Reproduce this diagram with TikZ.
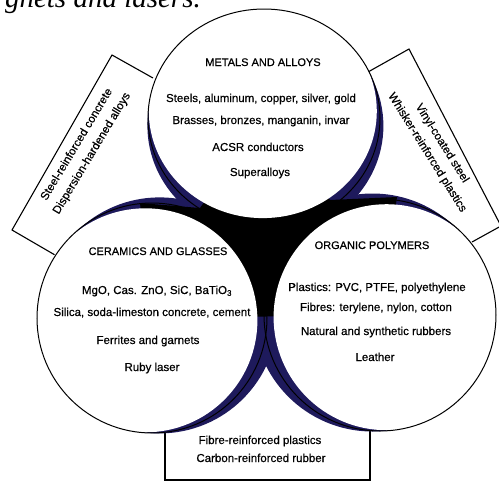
\documentclass[tikz,border=0pt]{standalone}
\usepackage{fontspec}
\setmainfont{Liberation Sans}[FakeBold=0.5]
\newfontfamily\titlefont{Liberation Serif}
\definecolor{bandblue}{RGB}{30,26,92}
\begin{document}
\begin{tikzpicture}[x=1pt,y=-1pt,
  lbl/.style={font=\fontsize{11.5}{13}\selectfont, inner sep=0pt, anchor=base},
  hdr/.style={font=\fontsize{11}{12}\selectfont, inner sep=0pt, anchor=base},
  rlbl/.style={font=\fontsize{11.5}{17.5}\selectfont, inner sep=0pt, anchor=center, align=center},
  boxline/.style={line width=1.1pt, black, line join=miter},
  outline/.style={line width=1pt, black},
  band/.style={fill=bandblue},
  blank/.style={fill=white}]
\useasboundingbox (0,0) rectangle (499,483);
\clip (0,0) rectangle (499,483);

% title fragment
\node[font=\titlefont\itshape\fontsize{29}{30}\selectfont, inner sep=0pt, anchor=base east] (title) at (201,7) {gnets and lasers.};

% boxes
\draw[boxline] (153,78) -- (112,55) -- (12,230) -- (55,255);
\draw[boxline] (368,72) -- (409,49) -- (501,226) -- (472,242);
\draw[boxline] (165,425) -- (165,480) -- (370,480) -- (370,425);

% dark bands
\fill[band] (265.4,125.9) ellipse [x radius=118pt, y radius=111pt];
\fill[band] (159.6,315.4) circle [radius=118pt];
\fill[band] (372.4,312.5) circle [radius=119pt];
% central black region
\fill[black] (264,118) -- (330,200) -- (397,197) -- (380,315) -- (152,318) -- (140,203) -- (200,208) -- cycle;
% white interiors
\fill[blank] (262.8,111.1) ellipse [x radius=114pt, y radius=107pt];
\fill[blank] (145.4,320.3) circle [radius=112pt];
\fill[blank] (386.6,317.2) circle [radius=113pt];
% outlines
\draw[outline] (264,118) ellipse [x radius=116pt, y radius=109pt];
\draw[outline] (152,318) circle [radius=115pt];
\draw[outline] (380,315) circle [radius=116pt];

% metals
\node[hdr] (m0) at (263,66) {METALS AND ALLOYS};
\node[lbl] (m1) at (261,102) {Steels, aluminum, copper, silver, gold};
\node[lbl] (m2) at (261,124) {Brasses, bronzes, manganin, invar};
\node[lbl] (m3) at (258,151) {ACSR conductors};
\node[lbl] (m4) at (260,176) {Superalloys};

% ceramics
\node[hdr] (c0) at (158,255) {CERAMICS AND GLASSES};
\node[lbl] (c1) at (157,294) {MgO, Cas. ZnO, SiC, BaTiO\textsubscript{3}};
\node[lbl] (c2) at (152,316) {Silica, soda-limeston concrete, cement};
\node[lbl] (c3) at (148,344) {Ferrites and garnets};
\node[lbl] (c4) at (152,371) {Ruby laser};

% polymers
\node[hdr] (p0) at (372,249) {ORGANIC POLYMERS};
\node[lbl] (p1) at (377,291) {Plastics: PVC, PTFE, polyethylene};
\node[lbl] (p2) at (376,311) {Fibres: terylene, nylon, cotton};
\node[lbl] (p3) at (376,335) {Natural and synthetic rubbers};
\node[lbl] (p4) at (375,361) {Leather};

% box texts
\node[rlbl, rotate=59] (lbox) at (84.5,149) {Steel-reinforced concrete\\Dispersion-hardened alloys};
\node[rlbl, rotate=-58] (rbox) at (434.5,148) {Vinyl-coated steel\\Whisker-reinforced plastics};
\node[lbl] (b1) at (260,444) {Fibre-reinforced plastics};
\node[lbl] (b2) at (261,462) {Carbon-reinforced rubber};
\end{tikzpicture}
\end{document}
